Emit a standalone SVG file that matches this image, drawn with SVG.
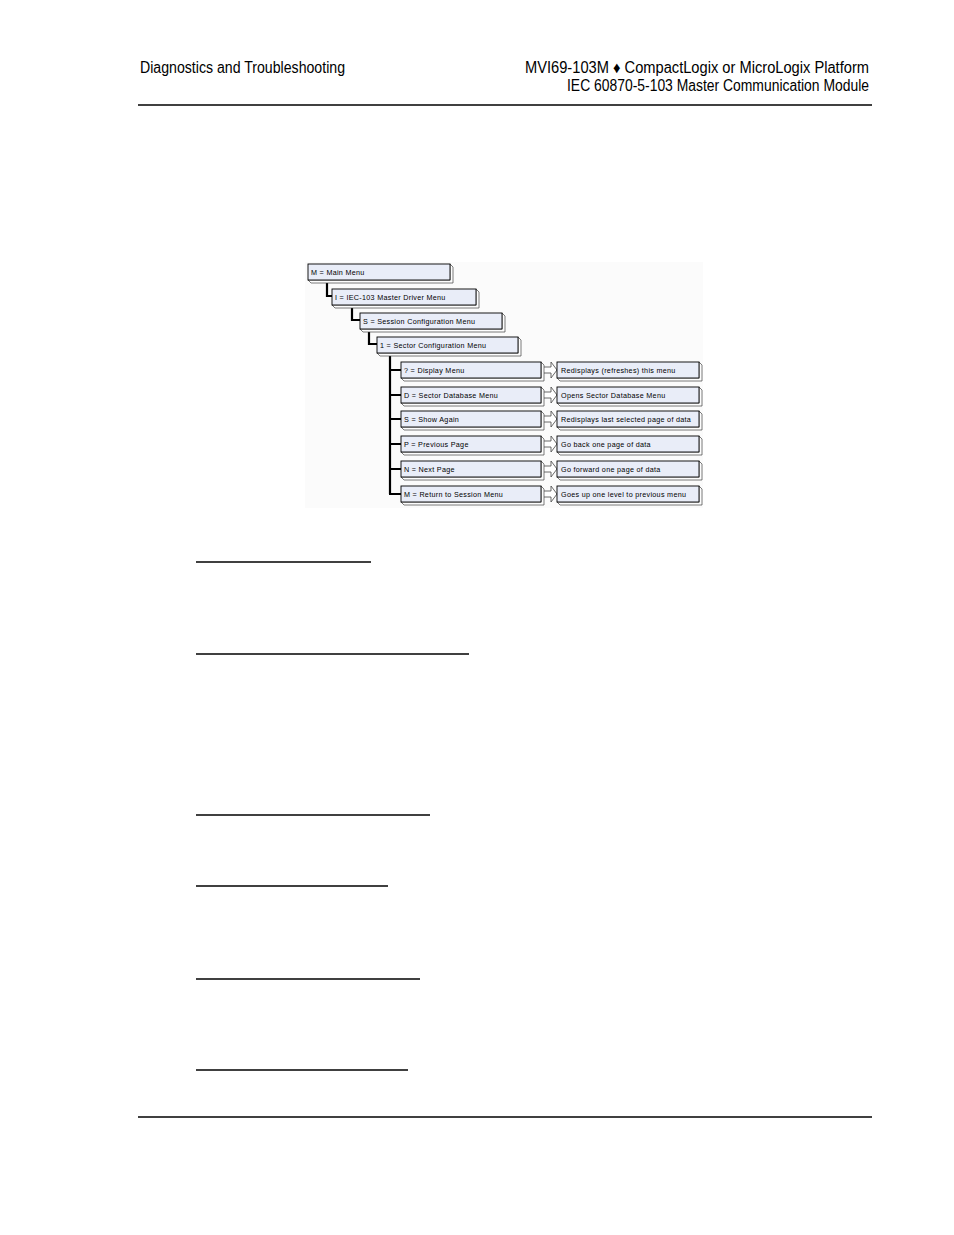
<svg xmlns="http://www.w3.org/2000/svg" width="954" height="1235" viewBox="0 0 954 1235">
<style>
.hdr{font-family:"Liberation Sans",Arial,sans-serif;font-size:16px;fill:#000}
.rule{stroke:#000;stroke-width:1.3}
.ul{stroke:#000;stroke-width:1.3}
.box{fill:#e9edf8;stroke:#000;stroke-width:0.9}
.ext{fill:#fdfdfd;stroke:#444;stroke-width:0.7}
.lbl{font-family:"Liberation Sans",Arial,sans-serif;font-size:7.2px;letter-spacing:0.3px;fill:#000}
.conn{fill:none;stroke:#000;stroke-width:2.2}
.arr{fill:#fff;stroke:#444;stroke-width:0.8}
</style>
<defs>
<g id="arrow"><polygon class="arr" points="0,-3 9,-3 9,-8 15,0 9,8 9,3 0,3"/></g>
</defs>
<rect width="954" height="1235" fill="#fff"/>
<!-- header -->
<text class="hdr" x="140" y="73" textLength="205" lengthAdjust="spacingAndGlyphs">Diagnostics and Troubleshooting</text>
<text class="hdr" x="869" y="73" text-anchor="end" textLength="344" lengthAdjust="spacingAndGlyphs">MVI69-103M ♦ CompactLogix or MicroLogix Platform</text>
<text class="hdr" x="869" y="91" text-anchor="end" textLength="302" lengthAdjust="spacingAndGlyphs">IEC 60870-5-103 Master Communication Module</text>
<line class="rule" x1="138" y1="105" x2="872" y2="105"/>
<!-- diagram background -->
<rect x="305" y="262" width="398" height="246" fill="#fbfbfb"/>
<!-- connectors -->
<g id="connectors">
<path class="conn" d="M327,281 V296 H333"/>
<path class="conn" d="M352,306 V320 H361"/>
<path class="conn" d="M369,330 V344 H378"/>
<path class="conn" d="M390,354 V494 M390,370 H402 M390,395 H402 M390,419 H402 M390,444 H402 M390,469 H402 M389,494 H402"/>
<use href="#arrow" x="542" y="370"/>
<use href="#arrow" x="542" y="395"/>
<use href="#arrow" x="542" y="419"/>
<use href="#arrow" x="542" y="444"/>
<use href="#arrow" x="542" y="469"/>
<use href="#arrow" x="542" y="494"/>
</g>
<!-- nodes -->
<g id="n-main"><polygon class="ext" points="450,264 453,267 453,283 311,283 308,280 450,280"/><rect class="box" x="308" y="264" width="142" height="16"/><text class="lbl" x="311" y="274.5">M = Main Menu</text></g>
<g id="n-iec"><polygon class="ext" points="476,289 479,292 479,308 335,308 332,305 476,305"/><rect class="box" x="332" y="289" width="144" height="16"/><text class="lbl" x="335" y="299.5">I = IEC-103 Master Driver Menu</text></g>
<g id="n-session"><polygon class="ext" points="502,313 505,316 505,332 363,332 360,329 502,329"/><rect class="box" x="360" y="313" width="142" height="16"/><text class="lbl" x="363" y="323.5">S = Session Configuration Menu</text></g>
<g id="n-sector"><polygon class="ext" points="518,337 521,340 521,356 380,356 377,353 518,353"/><rect class="box" x="377" y="337" width="141" height="16"/><text class="lbl" x="380" y="347.5">1 = Sector Configuration Menu</text></g>

<g id="n-display"><polygon class="ext" points="541,362 544,365 544,381 404,381 401,378 541,378"/><rect class="box" x="401" y="362" width="140" height="16"/><text class="lbl" x="404" y="372.5">? = Display Menu</text></g>
<g id="n-db"><polygon class="ext" points="541,387 544,390 544,406 404,406 401,403 541,403"/><rect class="box" x="401" y="387" width="140" height="16"/><text class="lbl" x="404" y="397.5">D = Sector Database Menu</text></g>
<g id="n-show"><polygon class="ext" points="541,411 544,414 544,430 404,430 401,427 541,427"/><rect class="box" x="401" y="411" width="140" height="16"/><text class="lbl" x="404" y="421.5">S = Show Again</text></g>
<g id="n-prev"><polygon class="ext" points="541,436 544,439 544,455 404,455 401,452 541,452"/><rect class="box" x="401" y="436" width="140" height="16"/><text class="lbl" x="404" y="446.5">P = Previous Page</text></g>
<g id="n-next"><polygon class="ext" points="541,461 544,464 544,480 404,480 401,477 541,477"/><rect class="box" x="401" y="461" width="140" height="16"/><text class="lbl" x="404" y="471.5">N = Next Page</text></g>
<g id="n-return"><polygon class="ext" points="541,486 544,489 544,505 404,505 401,502 541,502"/><rect class="box" x="401" y="486" width="140" height="16"/><text class="lbl" x="404" y="496.5">M = Return to Session Menu</text></g>

<g id="d-display"><polygon class="ext" points="699,362 702,365 702,381 560,381 557,378 699,378"/><rect class="box" x="557" y="362" width="142" height="16"/><text class="lbl" x="561" y="372.5">Redisplays (refreshes) this menu</text></g>
<g id="d-db"><polygon class="ext" points="699,387 702,390 702,406 560,406 557,403 699,403"/><rect class="box" x="557" y="387" width="142" height="16"/><text class="lbl" x="561" y="397.5">Opens Sector Database Menu</text></g>
<g id="d-show"><polygon class="ext" points="699,411 702,414 702,430 560,430 557,427 699,427"/><rect class="box" x="557" y="411" width="142" height="16"/><text class="lbl" x="561" y="421.5">Redisplays last selected page of data</text></g>
<g id="d-prev"><polygon class="ext" points="699,436 702,439 702,455 560,455 557,452 699,452"/><rect class="box" x="557" y="436" width="142" height="16"/><text class="lbl" x="561" y="446.5">Go back one page of data</text></g>
<g id="d-next"><polygon class="ext" points="699,461 702,464 702,480 560,480 557,477 699,477"/><rect class="box" x="557" y="461" width="142" height="16"/><text class="lbl" x="561" y="471.5">Go forward one page of data</text></g>
<g id="d-return"><polygon class="ext" points="699,486 702,489 702,505 560,505 557,502 699,502"/><rect class="box" x="557" y="486" width="142" height="16"/><text class="lbl" x="561" y="496.5">Goes up one level to previous menu</text></g>
<!-- underlines -->
<line class="ul" x1="196" y1="562" x2="371" y2="562"/>
<line class="ul" x1="196" y1="654" x2="469" y2="654"/>
<line class="ul" x1="196" y1="815" x2="430" y2="815"/>
<line class="ul" x1="196" y1="886" x2="388" y2="886"/>
<line class="ul" x1="196" y1="979" x2="420" y2="979"/>
<line class="ul" x1="196" y1="1070" x2="408" y2="1070"/>
<!-- footer -->
<line class="rule" x1="138" y1="1117" x2="872" y2="1117"/>
</svg>
